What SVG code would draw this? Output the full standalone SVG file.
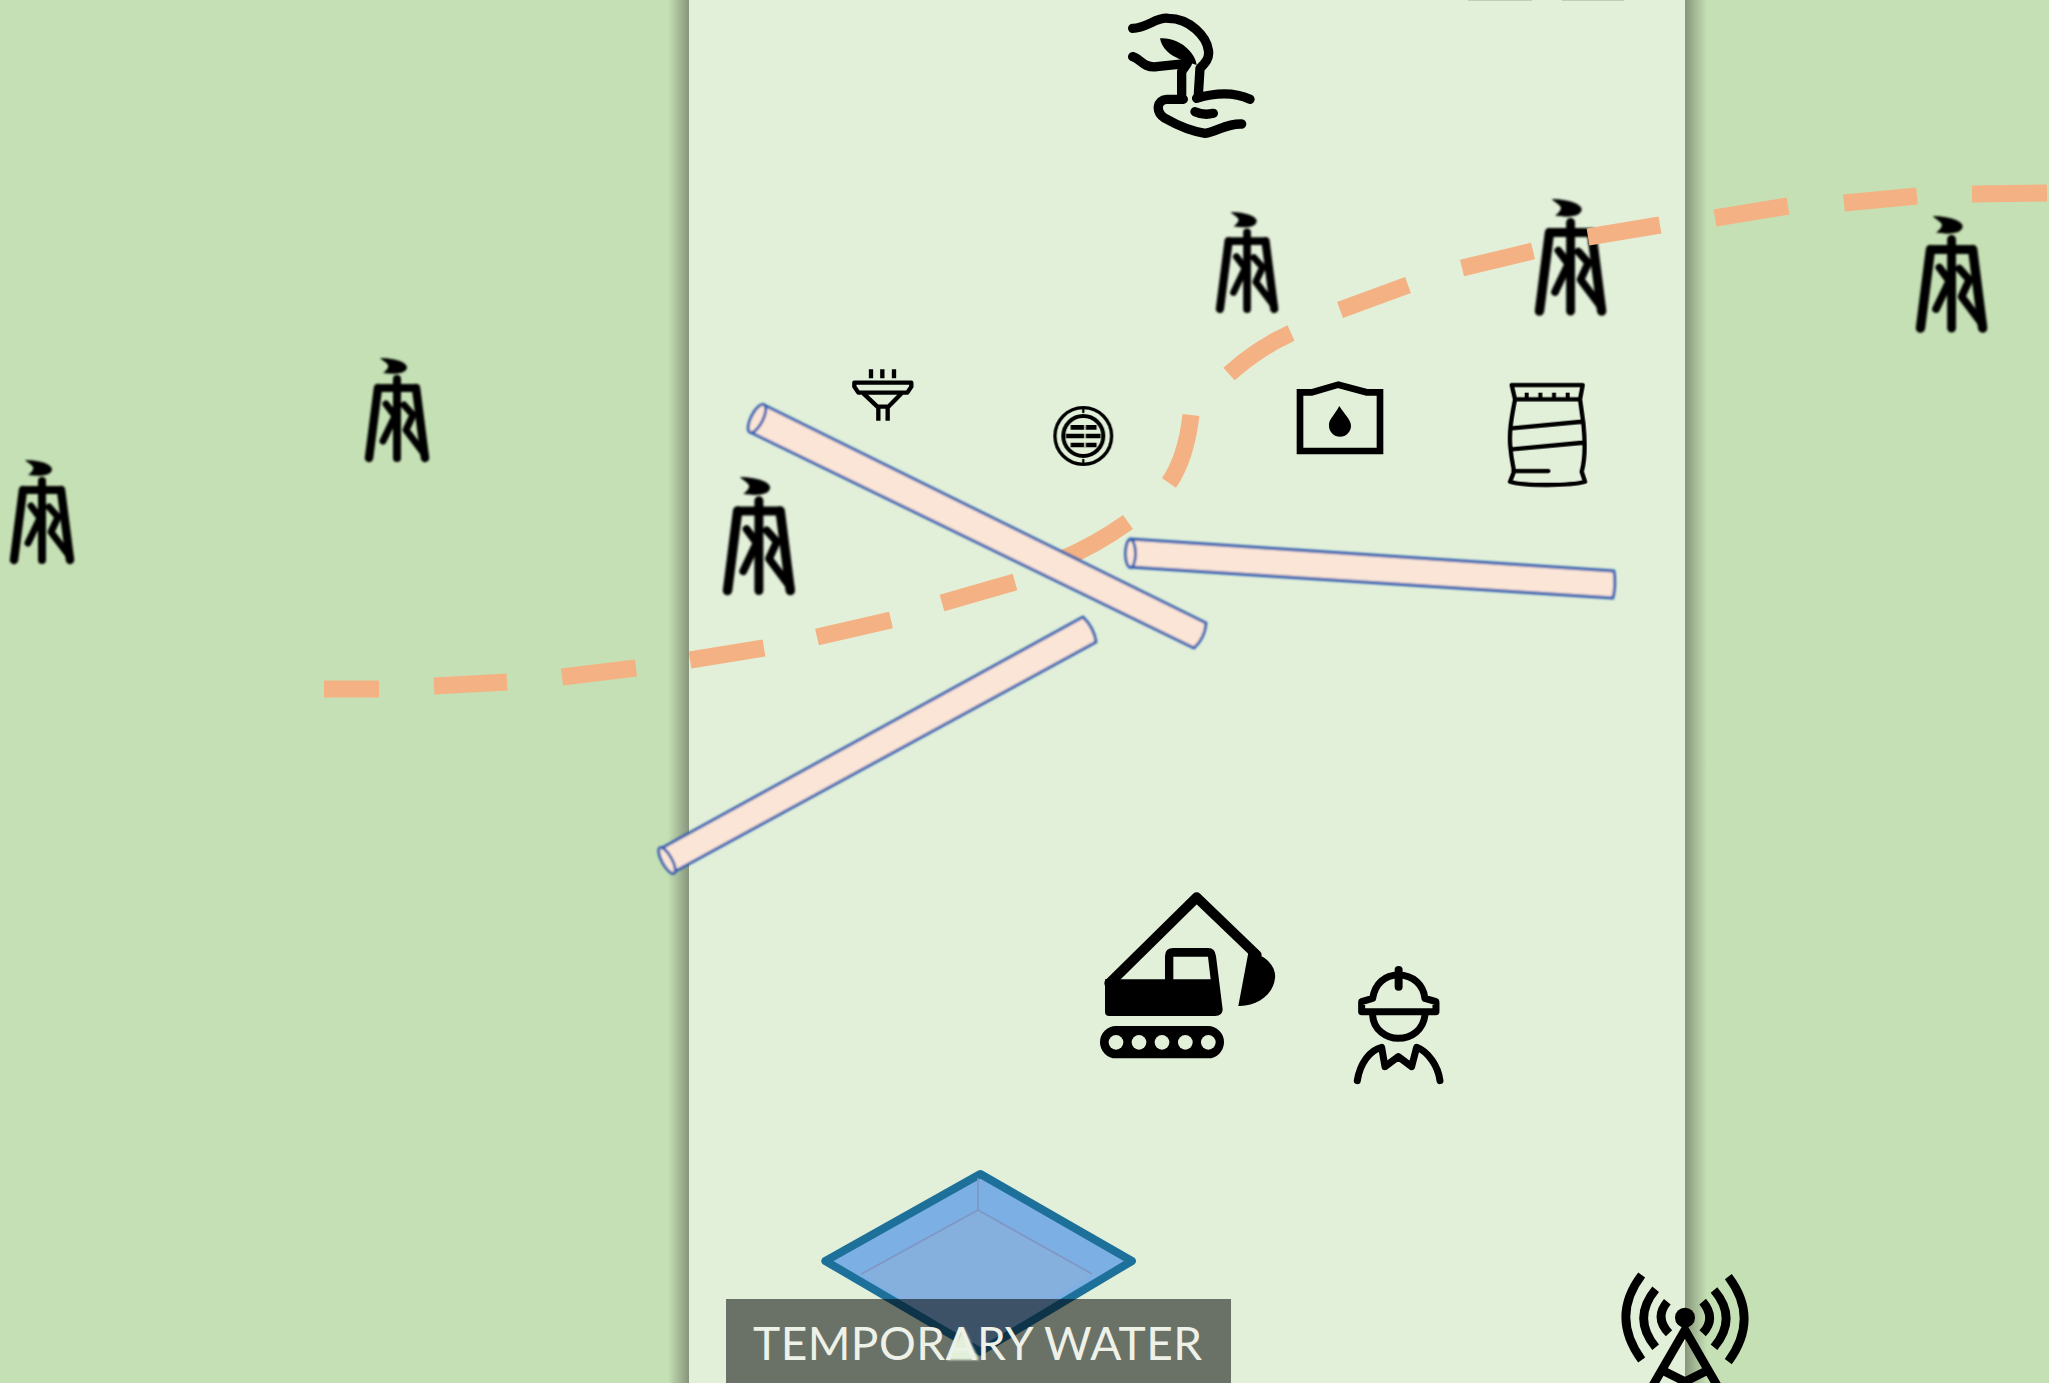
<svg xmlns="http://www.w3.org/2000/svg" xmlns:xlink="http://www.w3.org/1999/xlink" width="2049" height="1383" viewBox="0 0 2049 1383">
<style>
.ln{fill:none;stroke:#000;stroke-linecap:round;stroke-linejoin:round}
.ink{fill:#000}
.pipe{fill:#fbe5d6;stroke:#2f5cb0;stroke-width:2.800;stroke-linejoin:round}
.z3{filter:url(#soft)}
.label{font-family:"Lato","Open Sans",sans-serif;font-size:46px;fill:#eef1e8;text-anchor:middle}
</style>
<defs>
<filter id="soft" x="-10%" y="-10%" width="120%" height="120%"><feGaussianBlur stdDeviation="0.8"/></filter>
<linearGradient id="shL" x1="0" x2="1" y1="0" y2="0"><stop offset="0" stop-color="#c5e0b4"/><stop offset="1" stop-color="#87957b"/></linearGradient>
<linearGradient id="shR" x1="0" x2="1" y1="0" y2="0"><stop offset="0" stop-color="#87957b"/><stop offset="1" stop-color="#c5e0b4"/></linearGradient>
<g id="rig">
<path class="ink" d="M15,0 C26,0 41,3 42,9 C42,15 33,17 18,15 C22,12 24,9 23,7 C21,4 18,3 15,0Z"/>
<path class="ln" stroke-width="8" d="M32,21V100M13,30H51"/>
<path class="ln" stroke-width="8.500" d="M13,30L4,100M51,30L60,100"/>
<path class="ln" stroke-width="7" d="M31,56L18,83M21,46L30,58M39,47L48,57L41,72L60,97"/>
</g>
</defs>
<rect id="ground" width="2049" height="1383" fill="#c5e0b4"/>
<rect x="668" width="21" height="1383" fill="url(#shL)"/>
<rect x="1685" width="22" height="1383" fill="url(#shR)"/>
<rect id="panel" x="689" width="996" height="1383" fill="#e2f0d9"/>
<rect x="1468" width="64" height="1" fill="#c6ccbc"/>
<rect x="1562" width="62" height="1" fill="#c6ccbc"/>

<g id="rigs" class="z3">
<use id="rig-1" xlink:href="#rig" transform="translate(10,460)"/>
<use id="rig-2" xlink:href="#rig" transform="translate(365,358)"/>
<use id="rig-3" xlink:href="#rig" transform="translate(723,477) scale(1.12,1.135)"/>
<use id="rig-4" xlink:href="#rig" transform="translate(1216,212) scale(.97,.97)"/>
<use id="rig-5" xlink:href="#rig" transform="translate(1535,199) scale(1.11,1.12)"/>
<use id="rig-6" xlink:href="#rig" transform="translate(1916,216) scale(1.11,1.12)"/>
</g>

<g id="connectors">
<path fill="none" stroke="#f4b183" stroke-width="17" d="M324,689H379M434,686L507,682M562,677L636,668M690,660L764,648M817,637L891,620M942,603L1015,582M1060,560Q1096,545 1128,522M1169,483Q1186,458 1191,415M1229,374Q1258,348 1291,333M1340,310L1408,285M1462,268L1533,251M1588,237L1660,225M1715,218L1788,206M1844,203L1917,196M1972,194L2047,193"/>
</g>

<g id="pipes" class="z3">
<g id="pipe-1">
<path class="pipe" d="M764,405L1206,623Q1205,638 1194,648L750,432Q752,415 764,405Z"/>
<ellipse class="pipe" cx="757" cy="418.500" rx="6" ry="15.500" transform="rotate(27 757 418.500)"/>
</g>
<g id="pipe-2">
<path class="pipe" d="M662,848L1083,617Q1094,628 1096,642L672,873Q660,862 662,848Z"/>
<ellipse class="pipe" cx="667" cy="860.500" rx="5" ry="14.500" transform="rotate(-29 667 860.500)"/>
</g>
<g id="pipe-3">
<path class="pipe" d="M1130,539L1614,571Q1616,585 1613,598L1130,567Z"/>
<ellipse class="pipe" cx="1130.500" cy="553.500" rx="5" ry="14"/>
</g>
</g>

<g id="hand" class="z3" transform="translate(1100,0) scale(.3333)">
<path class="ln" stroke-width="28" d="M98,85C140,85 170,50 205,55C270,55 320,110 325,150C330,175 315,190 300,205L295,285M98,170C120,175 130,205 170,200L262,190L245,215V290M290,295C340,280 400,275 450,298M250,298H200C170,300 165,335 195,355C230,375 280,395 315,400C350,395 380,370 425,372M285,335C300,342 320,345 340,340"/>
<path class="ink" d="M180,115C235,110 285,155 290,195C240,180 190,165 180,115Z"/>
</g>

<g id="filter-icon" class="z3" transform="translate(820,350) scale(.3333)">
<path class="ln" style="stroke-linecap:butt" stroke-width="13" d="M153,58V85M187,58V85M222,58V85M103,98H274V110L262,128H115L103,110ZM130,130L172,170H205L245,130M175,170V212M203,170V212"/>
</g>

<g id="round-icon" class="z3" transform="translate(820,350) scale(.3333)">
<circle class="ln" cx="790" cy="258" r="85" stroke-width="10"/>
<circle class="ln" cx="790" cy="258" r="60" stroke-width="12"/>
<path class="ln" style="stroke-linecap:butt" stroke-width="14" d="M752,232H830M738,258H842M752,285H830"/>
<path class="ln" style="stroke:#e2f0d9;stroke-linecap:butt" stroke-width="5" d="M795,225V292"/>
<path class="ln" stroke-width="7" d="M790,176V186M790,330V340"/>
</g>

<g id="tank" class="z3" transform="translate(1270,360) scale(.3333)">
<path class="ln" style="stroke-linejoin:miter" stroke-width="20" d="M90,97H125L205,74L290,97H330V273H90Z"/>
<path class="ink" d="M208,138C190,170 175,180 177,197A32,32 0 0 0 243,197C243,180 225,165 208,138Z"/>
</g>

<g id="bag" class="z3" transform="translate(1270,360) scale(.3333)">
<path class="ln" stroke-width="13" d="M725,75H938L930,118H735ZM735,118C725,170 715,220 722,270C725,310 735,330 730,340L720,365C760,378 900,378 945,365L935,335C945,300 945,240 940,190L930,118M725,205L935,185M725,268L938,248M730,333H835"/>
<path class="ln" style="stroke-linecap:butt" stroke-width="12" d="M770,98V118M811,98V118M852,98V118M893,98V118"/>
</g>

<g id="excavator" class="z3" transform="translate(1080,870) scale(.3333)">
<path class="ln" stroke-width="30" d="M88,340L350,82L530,255"/>
<path class="ink" fill-rule="evenodd" d="M75,328H255V258Q255,234 280,234H385Q405,234 408,258L428,418Q428,438 405,438H88Q75,438 75,425ZM280,260V328H392L384,260Z"/>
<path class="ink" d="M505,248C560,250 590,295 585,325C580,375 530,410 475,408Z"/>
<rect class="ink" x="60" y="468" width="372" height="97" rx="48"/>
<g fill="#e2f0d9"><circle cx="108" cy="517" r="22"/><circle cx="177" cy="517" r="22"/><circle cx="246" cy="517" r="22"/><circle cx="316" cy="517" r="22"/><circle cx="385" cy="517" r="22"/></g>
</g>

<g id="worker" class="z3" transform="translate(1080,870) scale(.3333)">
<path class="ln" stroke-width="21" d="M878,385C885,340 915,315 955,315C1000,315 1030,345 1035,385M845,425H1068V395L1035,385M845,425V395L878,385M878,435C880,480 920,505 955,505C995,505 1030,480 1035,435M832,632C840,580 870,540 905,532L915,590L955,560L995,590L1010,532C1045,545 1075,590 1080,632"/>
<path class="ln" stroke-width="24" d="M956,300V350"/>
</g>

<g id="antenna" class="z3" transform="translate(1590,1250) scale(.3333)">
<path class="ln" style="stroke-linecap:butt" stroke-width="26" d="M155,75Q60,200 155,330M197,118Q125,205 197,292M232,155Q192,203 237,250M415,80Q510,205 415,335M372,120Q445,205 372,292M338,155Q380,205 338,250"/>
<circle class="ink" cx="285" cy="203" r="30"/>
<path class="ln" stroke-width="26" d="M285,240L175,430M285,240L395,430M225,365L285,395L345,365"/>
</g>

<g id="pool" class="z3" transform="translate(710,1150) scale(.3444,.3333)">
<path d="M785,72L1225,333L785,605L335,333Z" fill="#7cb0e4" stroke="#1f7099" stroke-width="24" stroke-linejoin="round"/>
<path d="M778,180L1110,372L785,590L440,372Z" fill="#85afdc"/>
<path d="M778,85V180L1110,372M778,180L440,372" fill="none" stroke="#7f97c4" stroke-width="5"/>
</g>

<g id="label">
<rect x="726" y="1299" width="505" height="84" fill="#000" opacity=".53"/>
<polygon class="z3" points="963,1327 947,1360 979,1360" fill="#e2f0d9"/>
<text class="label" x="977.500" y="1360" textLength="449">TEMPORARY WATER</text>
</g>
</svg>
